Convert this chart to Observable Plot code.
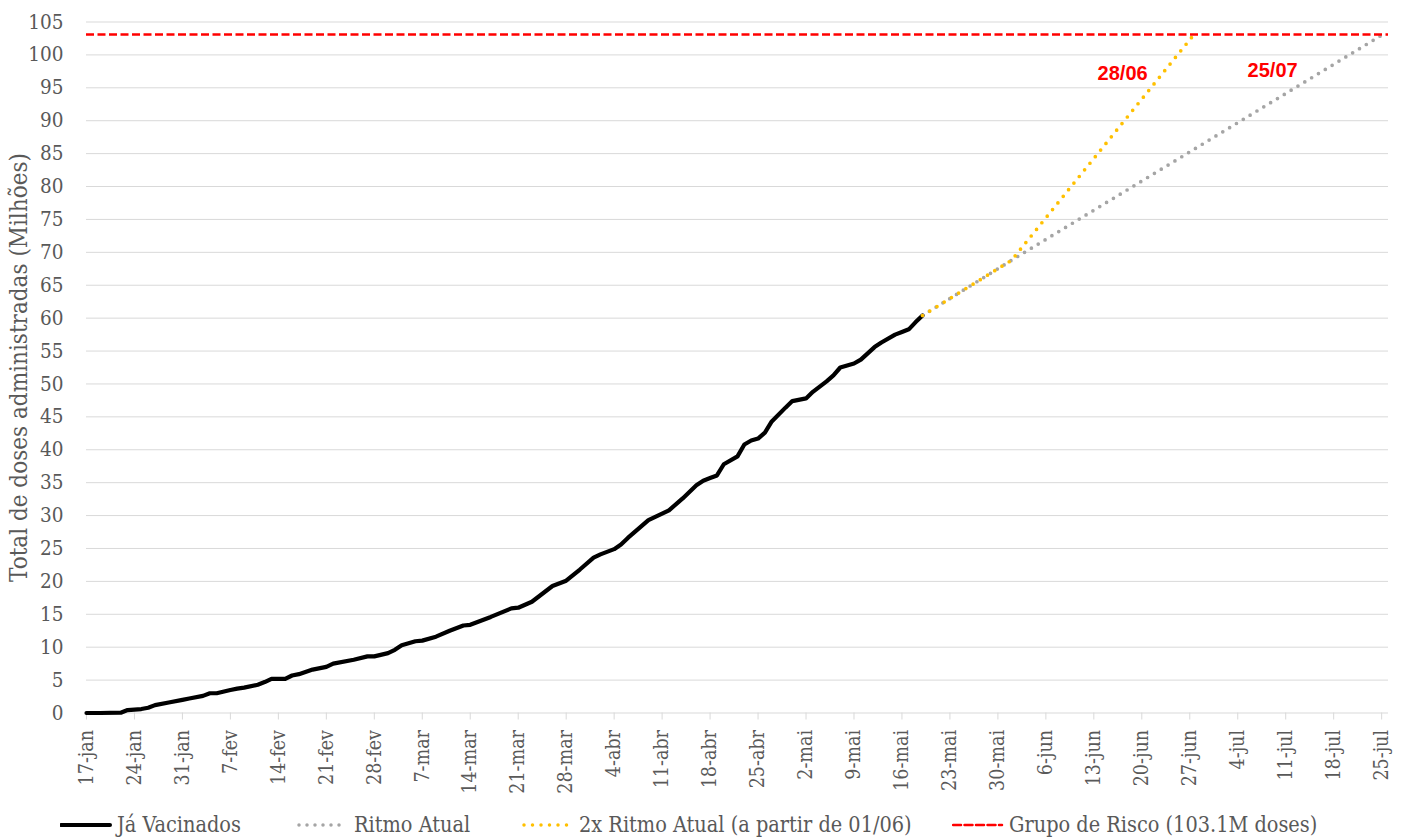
<!DOCTYPE html>
<html><head><meta charset="utf-8">
<script src="https://cdn.jsdelivr.net/npm/d3@7"></script>
<script src="https://cdn.jsdelivr.net/npm/@observablehq/plot@0.6"></script>
<style>
body{margin:0;background:#fff;}
#chart{width:1413px;}
.legend{position:relative;height:29px;width:1413px;font-family:"Roboto Slab","DejaVu Serif Condensed","DejaVu Serif",serif;font-size:21.5px;color:#595959;}
.item{position:absolute;top:0;height:29px;display:flex;align-items:center;white-space:nowrap;}
.item svg{margin-right:5px;}
</style></head><body>
<div id="chart"></div>
<script>
// Já Vacinados (milhões de doses acumuladas)
const vacDates = ["2021-01-17","2021-01-19","2021-01-22","2021-01-23","2021-01-25","2021-01-26","2021-01-27","2021-01-29","2021-01-31",
"2021-02-01","2021-02-03","2021-02-04","2021-02-05","2021-02-07","2021-02-08","2021-02-09","2021-02-11","2021-02-12","2021-02-13","2021-02-15","2021-02-16","2021-02-17","2021-02-19","2021-02-21","2021-02-22","2021-02-25","2021-02-27","2021-02-28",
"2021-03-02","2021-03-03","2021-03-04","2021-03-05","2021-03-06","2021-03-07","2021-03-09","2021-03-11","2021-03-13","2021-03-14","2021-03-17","2021-03-20","2021-03-21","2021-03-23","2021-03-26","2021-03-28","2021-03-30",
"2021-04-01","2021-04-02","2021-04-04","2021-04-05","2021-04-06","2021-04-09","2021-04-11","2021-04-12","2021-04-14","2021-04-16","2021-04-17","2021-04-18","2021-04-19","2021-04-20","2021-04-22","2021-04-23","2021-04-24","2021-04-25","2021-04-26","2021-04-27","2021-04-29","2021-04-30",
"2021-05-02","2021-05-03","2021-05-05","2021-05-06","2021-05-07","2021-05-08","2021-05-09","2021-05-10","2021-05-12","2021-05-13","2021-05-15","2021-05-16","2021-05-17","2021-05-18","2021-05-19"];
const vacValues = [0,0,0.05,0.45,0.6,0.8,1.2,1.6,2.0,
2.2,2.6,3.0,3.0,3.5,3.7,3.85,4.3,4.7,5.2,5.2,5.7,5.9,6.6,7.0,7.5,8.1,8.6,8.6,
9.1,9.6,10.3,10.6,10.9,11.0,11.6,12.5,13.3,13.4,14.6,15.9,16.0,16.9,19.3,20.1,21.8,
23.6,24.1,24.9,25.6,26.6,29.3,30.3,30.8,32.6,34.6,35.3,35.7,36.1,37.8,39.0,40.8,41.4,41.7,42.6,44.3,46.4,47.4,
47.8,48.8,50.4,51.3,52.5,52.8,53.1,53.7,55.6,56.3,57.5,57.9,58.3,59.4,60.4];

// Ritmo Atual
const ritmoDates = ["2021-05-19","2021-06-01","2021-07-25"];
const ritmoValues = [60.4,68.8,103.0];
// 2x Ritmo Atual (a partir de 01/06)
const ritmo2xDates = ["2021-05-19","2021-06-01","2021-06-28"];
const ritmo2xValues = [60.4,68.8,103.6];
// Grupo de Risco
const grupoRisco = 103.1;

const annotDates = ["2021-06-28","2021-07-25"];
const annotLabels = ["28/06","25/07"];

const tickDates = ["2021-01-17","2021-01-24","2021-01-31","2021-02-07","2021-02-14","2021-02-21","2021-02-28","2021-03-07","2021-03-14","2021-03-21","2021-03-28","2021-04-04","2021-04-11","2021-04-18","2021-04-25","2021-05-02","2021-05-09","2021-05-16","2021-05-23","2021-05-30","2021-06-06","2021-06-13","2021-06-20","2021-06-27","2021-07-04","2021-07-11","2021-07-18","2021-07-25"];
const tickLabels = ["17-jan","24-jan","31-jan","7-fev","14-fev","21-fev","28-fev","7-mar","14-mar","21-mar","28-mar","4-abr","11-abr","18-abr","25-abr","2-mai","9-mai","16-mai","23-mai","30-mai","6-jun","13-jun","20-jun","27-jun","4-jul","11-jul","18-jul","25-jul"];
const yTicks = [0,5,10,15,20,25,30,35,40,45,50,55,60,65,70,75,80,85,90,95,100,105];
const xDomain = ["2021-01-17","2021-07-26"];
const yLabel = "Total de doses administradas (Milhões)";

const legendItems = [
  {label:"Já Vacinados", color:"#000000", dash:null, width:4},
  {label:"Ritmo Atual", color:"#A5A5A5", dash:"0 8", width:3.5},
  {label:"2x Ritmo Atual (a partir de 01/06)", color:"#FFC000", dash:"0 8.5", width:3.5},
  {label:"Grupo de Risco (103.1M doses)", color:"#FF0000", dash:"8 3.5", width:2.5}
];
const legendLeft = [60, 297, 522, 952];

const parse = d3.utcParse("%Y-%m-%d");
const vac = vacDates.map((d,i)=>({date:parse(d), v:vacValues[i]}));
const ritmo = ritmoDates.map((d,i)=>({date:parse(d), v:ritmoValues[i]}));
const ritmo2x = ritmo2xDates.map((d,i)=>({date:parse(d), v:ritmo2xValues[i]}));
const ticks = tickDates.map(parse);
const labelMap = new Map(ticks.map((t,i)=>[+t, tickLabels[i]]));
const annots = annotDates.map((d,i)=>({date:parse(d), v:grupoRisco, label:annotLabels[i]}));

const FONT = '"Roboto Slab","DejaVu Serif Condensed","DejaVu Serif",serif';

const plot = Plot.plot({
  width: 1413,
  height: 810,
  marginLeft: 86,
  marginRight: 25,
  marginTop: 21.5,
  marginBottom: 97.5,
  style: {fontFamily: FONT, fontSize: "19px", color: "#595959", background: "#fff"},
  x: {type: "utc", domain: xDomain.map(parse)},
  y: {domain: [0, 105]},
  marks: [
    Plot.gridY(yTicks, {stroke: "#D9D9D9", strokeOpacity: 1, strokeWidth: 1}),
    Plot.axisY(yTicks, {tickSize: 0, tickPadding: 23, fill: "#595959", fontSize: 20.5, label: null}),
    Plot.axisX(ticks, {tickSize: 7, tickPadding: 10, tickRotate: -90, stroke: "#D9D9D9", fill: "#595959", fontSize: 19.5,
      tickFormat: d => labelMap.get(+d), label: null}),
    Plot.text([yLabel], {frameAnchor: "left", textAnchor: "middle", dx: -67, rotate: -90, fill: "#595959", fontSize: 24, fontFamily: FONT}),
    Plot.line(vac, {x: "date", y: "v", stroke: "#000", strokeWidth: 4.2, strokeLinejoin: "round"}),
    Plot.line(ritmo, {x: "date", y: "v", stroke: "#A5A5A5", strokeWidth: 3.7, strokeDasharray: "0 8", strokeLinecap: "round"}),
    Plot.line(ritmo2x, {x: "date", y: "v", stroke: "#FFC000", strokeWidth: 3.7, strokeDasharray: "0 8.5", strokeLinecap: "round"}),
    Plot.ruleY([grupoRisco], {stroke: "#FF0000", strokeWidth: 2.5, strokeDasharray: "8 3.5"}),
    Plot.text(annots, {x: "date", y: "v", text: "label", fill: "#FF0000", fontWeight: "bold", fontSize: 20,
      fontFamily: '"Liberation Sans", Arial, sans-serif'})
  ]
});
document.getElementById("chart").appendChild(plot);

// Offsets for the annotations
{
  const texts = plot.querySelectorAll('g[aria-label="text"]');
  const g = texts[texts.length-1];
  const offs = [[-74, 39], [-109, 36]];
  g.querySelectorAll("text").forEach((t,i)=>{
    t.setAttribute("dx", offs[i][0]); t.setAttribute("dy", offs[i][1]);
  });
}

const legend = document.createElement("div");
legend.className = "legend";
legendItems.forEach((it,i)=>{
  const item = document.createElement("div");
  item.className = "item";
  item.style.left = legendLeft[i] + "px";
  const sw = d3.create("svg").attr("width", 52).attr("height", 10);
  sw.append("line").attr("x1", it.dash && it.dash.startsWith("0") ? 2 : 1).attr("x2", 50).attr("y1", 5).attr("y2", 5)
    .attr("stroke", it.color).attr("stroke-width", it.width)
    .attr("stroke-dasharray", it.dash).attr("stroke-linecap", "round");
  item.appendChild(sw.node());
  const s = document.createElement("span");
  s.textContent = it.label;
  item.appendChild(s);
  legend.appendChild(item);
});
document.getElementById("chart").appendChild(legend);
</script>
</body></html>
